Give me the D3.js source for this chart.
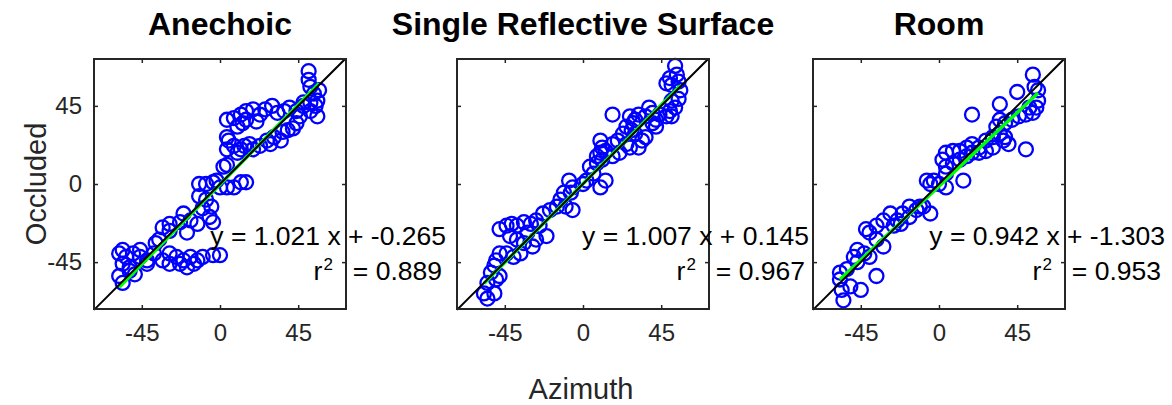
<!DOCTYPE html>
<html>
<head>
<meta charset="utf-8">
<script src="https://cdn.jsdelivr.net/npm/d3@7"></script>
<style>
  body { margin: 0; background: #fff; }
  text { font-family: "Liberation Sans", Arial, sans-serif; }
</style>
</head>
<body>
<svg id="chart" width="1172" height="405"></svg>
<script>
// panel titles and regression results
var titles = ["Anechoic", "Single Reflective Surface", "Room"];
var slopes = [1.021, 1.007, 0.942];
var intercepts = [-0.265, 0.145, -1.303];
var rSquared = [0.889, 0.967, 0.953];
var tickValues = [-45, 0, 45];

// [azimuth, occluded] pairs
var anechoicPts = [
  [51,65],[51,60],[52,56],[54,52],[57,54],[56,48],[55,45],[56,39],[52,42],[48,45],
  [46,39],[44,35],[42,32],[39,31],[36,30],[35,25],[31,27],[29,23],[27,25],[23,22],
  [19,20],[17,23],[14,22],[12,20],[10,18],[8,22],[5,25],
  [4,37],[8,38],[12,40],[15,42],[19,43],[23,40],[26,43],[30,45],[33,41],[37,42],
  [40,44],[44,42],[48,47],[52,47],[15,37],[21,36],[10,33],[13,35],
  [4,27],[4,20],[4,11],[2,10],
  [-12,0],[-8,0],[-4,1],[-2,2],[4,-2],[8,-2],[12,1],[15,1],[0,-2],
  [-12,-7],[-8,-9],[-10,-14],[-5,-13],
  [-21,-17],[-17,-21],[-23,-22],[-29,-23],[-33,-25],[-6,-19],[-4,-22],[-13,-23],
  [-19,-28],[-29,-27],[-35,-32],[-37,-34],
  [-58,-40],[-54,-42],[-50,-40],[-46,-42],[-42,-44],[-38,-40],[-33,-44],[-29,-40],
  [-25,-42],[-21,-44],[-17,-42],[-13,-44],[-10,-42],[-4,-41],[0,-41],
  [-56,-46],[-52,-48],[-42,-46],[-29,-46],[-23,-46],[-19,-48],[-15,-46],
  [-56,-38],[-46,-38],
  [-58,-53],[-56,-57],[-52,-50],[-49,-52]
];

var singlePts = [
  [53,68],[54,63],[50,61],[55,59],[51,57],[48,58],[56,54],[55,49],[51,48],[53,44],
  [50,42],[48,39],[44,40],[42,37],[40,35],[38,44],[40,41],[36,39],[32,40],[30,37],
  [29,35],[27,39],[25,33],[28,31],[30,29],[34,25],[32,21],[27,21],[23,29],[20,25],
  [17,23],[13,19],[11,21],[10,18],[8,16],[8,12],[4,10],[6,6],[2,2],[0,0],
  [-6,-2],[-8,2],[-7,-5],[-11,-5],[-13,-9],[-10,-13],[-6,-15],[-15,-13],[-19,-15],
  [-23,-17],[-27,-21],[-30,-23],[-34,-22],[-38,-24],[-41,-23],[-44,-24],[-48,-26],
  [-42,-30],[-38,-32],[-34,-34],[-29,-36],[-27,-32],[-21,-30],[-25,-24],[-32,-28],
  [-36,-40],[-40,-42],[-44,-40],[-48,-40],[-50,-44],[-51,-47],[-53,-51],[-50,-55],
  [-55,-57],[-57,-63],[-55,-66],[-51,-63],[-48,-53],
  [17,40],[13,2],[10,-2],[17,16],[21,18],[25,23],[36,27],[42,33],[10,25],[11,14],[51,39]
];

var roomPts = [
  [54,63],[55,56],[57,54],[45,53],[35,46],[19,40],[35,37],[33,33],[38,35],[42,37],
  [46,39],[50,40],[54,41],[56,44],[52,44],[57,48],[50,20],[40,23],[37,25],[31,21],
  [27,19],[23,18],[19,23],[16,21],[12,19],[8,19],[4,18],[2,14],[4,10],[8,12],
  [12,14],[16,16],[19,18],[23,21],[27,25],[31,27],[35,29],[38,27],
  [14,2],[4,-2],[0,0],[-5,0],[-7,2],[-3,2],[4,6],
  [-5,-17],[-9,-13],[-13,-15],[-17,-13],[-21,-17],[-24,-21],[-28,-17],[-32,-21],
  [-36,-24],[-40,-28],[-42,-26],[-36,-32],[-32,-36],[-40,-42],[-43,-40],[-47,-38],
  [-49,-42],[-53,-49],[-57,-51],[-57,-55],[-56,-61],[-55,-67],[-51,-59],[-45,-61],
  [-36,-53],[-47,-45],[-17,-19],[-11,-13],[-22,-23],[-26,-24]
];

var panels = [anechoicPts, singlePts, roomPts];

var svg = d3.select("#chart");
var panelLefts = [94, 457, 813],
    panelTop = 59, w = 252, h = 250;

var x = d3.scaleLinear().domain([-72.5, 72.5]).range([0, w]),
    y = d3.scaleLinear().domain([-72, 72]).range([h, 0]);

var fmt = function(d) { return String(d); };

panels.forEach(function(pts, i) {
  var g = svg.append("g").attr("transform", "translate(" + panelLefts[i] + "," + panelTop + ")");

  // points
  g.selectAll("circle")
    .data(pts)
    .enter().append("circle")
    .attr("cx", function(d) { return x(d[0]); })
    .attr("cy", function(d) { return y(d[1]); })
    .attr("r", 7)
    .attr("fill", "none")
    .attr("stroke", "#0000ff")
    .attr("stroke-width", 2.3);

  // least squares fit over the data range
  var ext = d3.extent(pts, function(d) { return d[0]; });
  var line = d3.line().x(function(d) { return x(d); })
    .y(function(d) { return y(slopes[i] * d + intercepts[i]); });
  g.append("path")
    .attr("d", line(ext))
    .attr("stroke", "#00ff00")
    .attr("stroke-width", 3.5)
    .attr("fill", "none");

  // identity line
  g.append("path")
    .attr("d", d3.line().x(function(d) { return x(d); }).y(function(d) { return y(d); })([-72.5, 72]))
    .attr("stroke", "#000")
    .attr("stroke-width", 2)
    .attr("fill", "none");

  // axes, ticks inside on all four sides
  var bottom = g.append("g").attr("transform", "translate(0," + h + ")")
    .call(d3.axisBottom(x).tickValues(tickValues).tickSize(-4).tickPadding(15).tickFormat(fmt));
  g.append("g").call(d3.axisTop(x).tickValues(tickValues).tickSize(-4).tickFormat(""));
  var left = g.append("g")
    .call(d3.axisLeft(y).tickValues(tickValues).tickSize(-4).tickPadding(12).tickFormat(fmt));
  g.append("g").attr("transform", "translate(" + w + ",0)")
    .call(d3.axisRight(y).tickValues(tickValues).tickSize(-4).tickFormat(""));
  if (i > 0) left.selectAll("text").remove();

  g.selectAll(".domain").remove();
  g.selectAll(".tick line").attr("stroke", "#262626").attr("stroke-width", 1.5);
  g.selectAll(".tick text")
    .attr("fill", "#262626")
    .style("font-size", "24px")
    .style("font-family", "Liberation Sans, Arial, sans-serif");
  bottom.selectAll("text").attr("dy", "0.71em");

  g.append("rect")
    .attr("width", w).attr("height", h)
    .attr("fill", "none")
    .attr("stroke", "#262626")
    .attr("stroke-width", 2);

  // title
  g.append("text")
    .attr("x", w / 2).attr("y", -24)
    .attr("text-anchor", "middle")
    .style("font-size", "32px")
    .style("font-weight", "bold")
    .attr("fill", "#000")
    .text(titles[i]);

  // fit equation
  g.append("text")
    .attr("x", w + 100).attr("y", 186)
    .attr("text-anchor", "end")
    .style("font-size", "26.5px")
    .attr("fill", "#000")
    .text("y = " + slopes[i].toFixed(3) + " x + " + intercepts[i].toFixed(3));

  var r2 = g.append("text")
    .attr("x", w + 96).attr("y", 221)
    .attr("text-anchor", "end")
    .style("font-size", "26.5px")
    .attr("fill", "#000");
  r2.append("tspan").text("r");
  r2.append("tspan").attr("dy", -10).attr("dx", 1).style("font-size", "17px").text("2");
  r2.append("tspan").attr("dy", 10).attr("dx", 20).text("= " + rSquared[i].toFixed(3));
});

// shared axis labels
svg.append("text")
  .attr("transform", "translate(46,184) rotate(-90)")
  .attr("text-anchor", "middle")
  .style("font-size", "29px")
  .attr("fill", "#262626")
  .text("Occluded");

svg.append("text")
  .attr("x", 581).attr("y", 399)
  .attr("text-anchor", "middle")
  .style("font-size", "29px")
  .attr("fill", "#262626")
  .text("Azimuth");
</script>
</body>
</html>
